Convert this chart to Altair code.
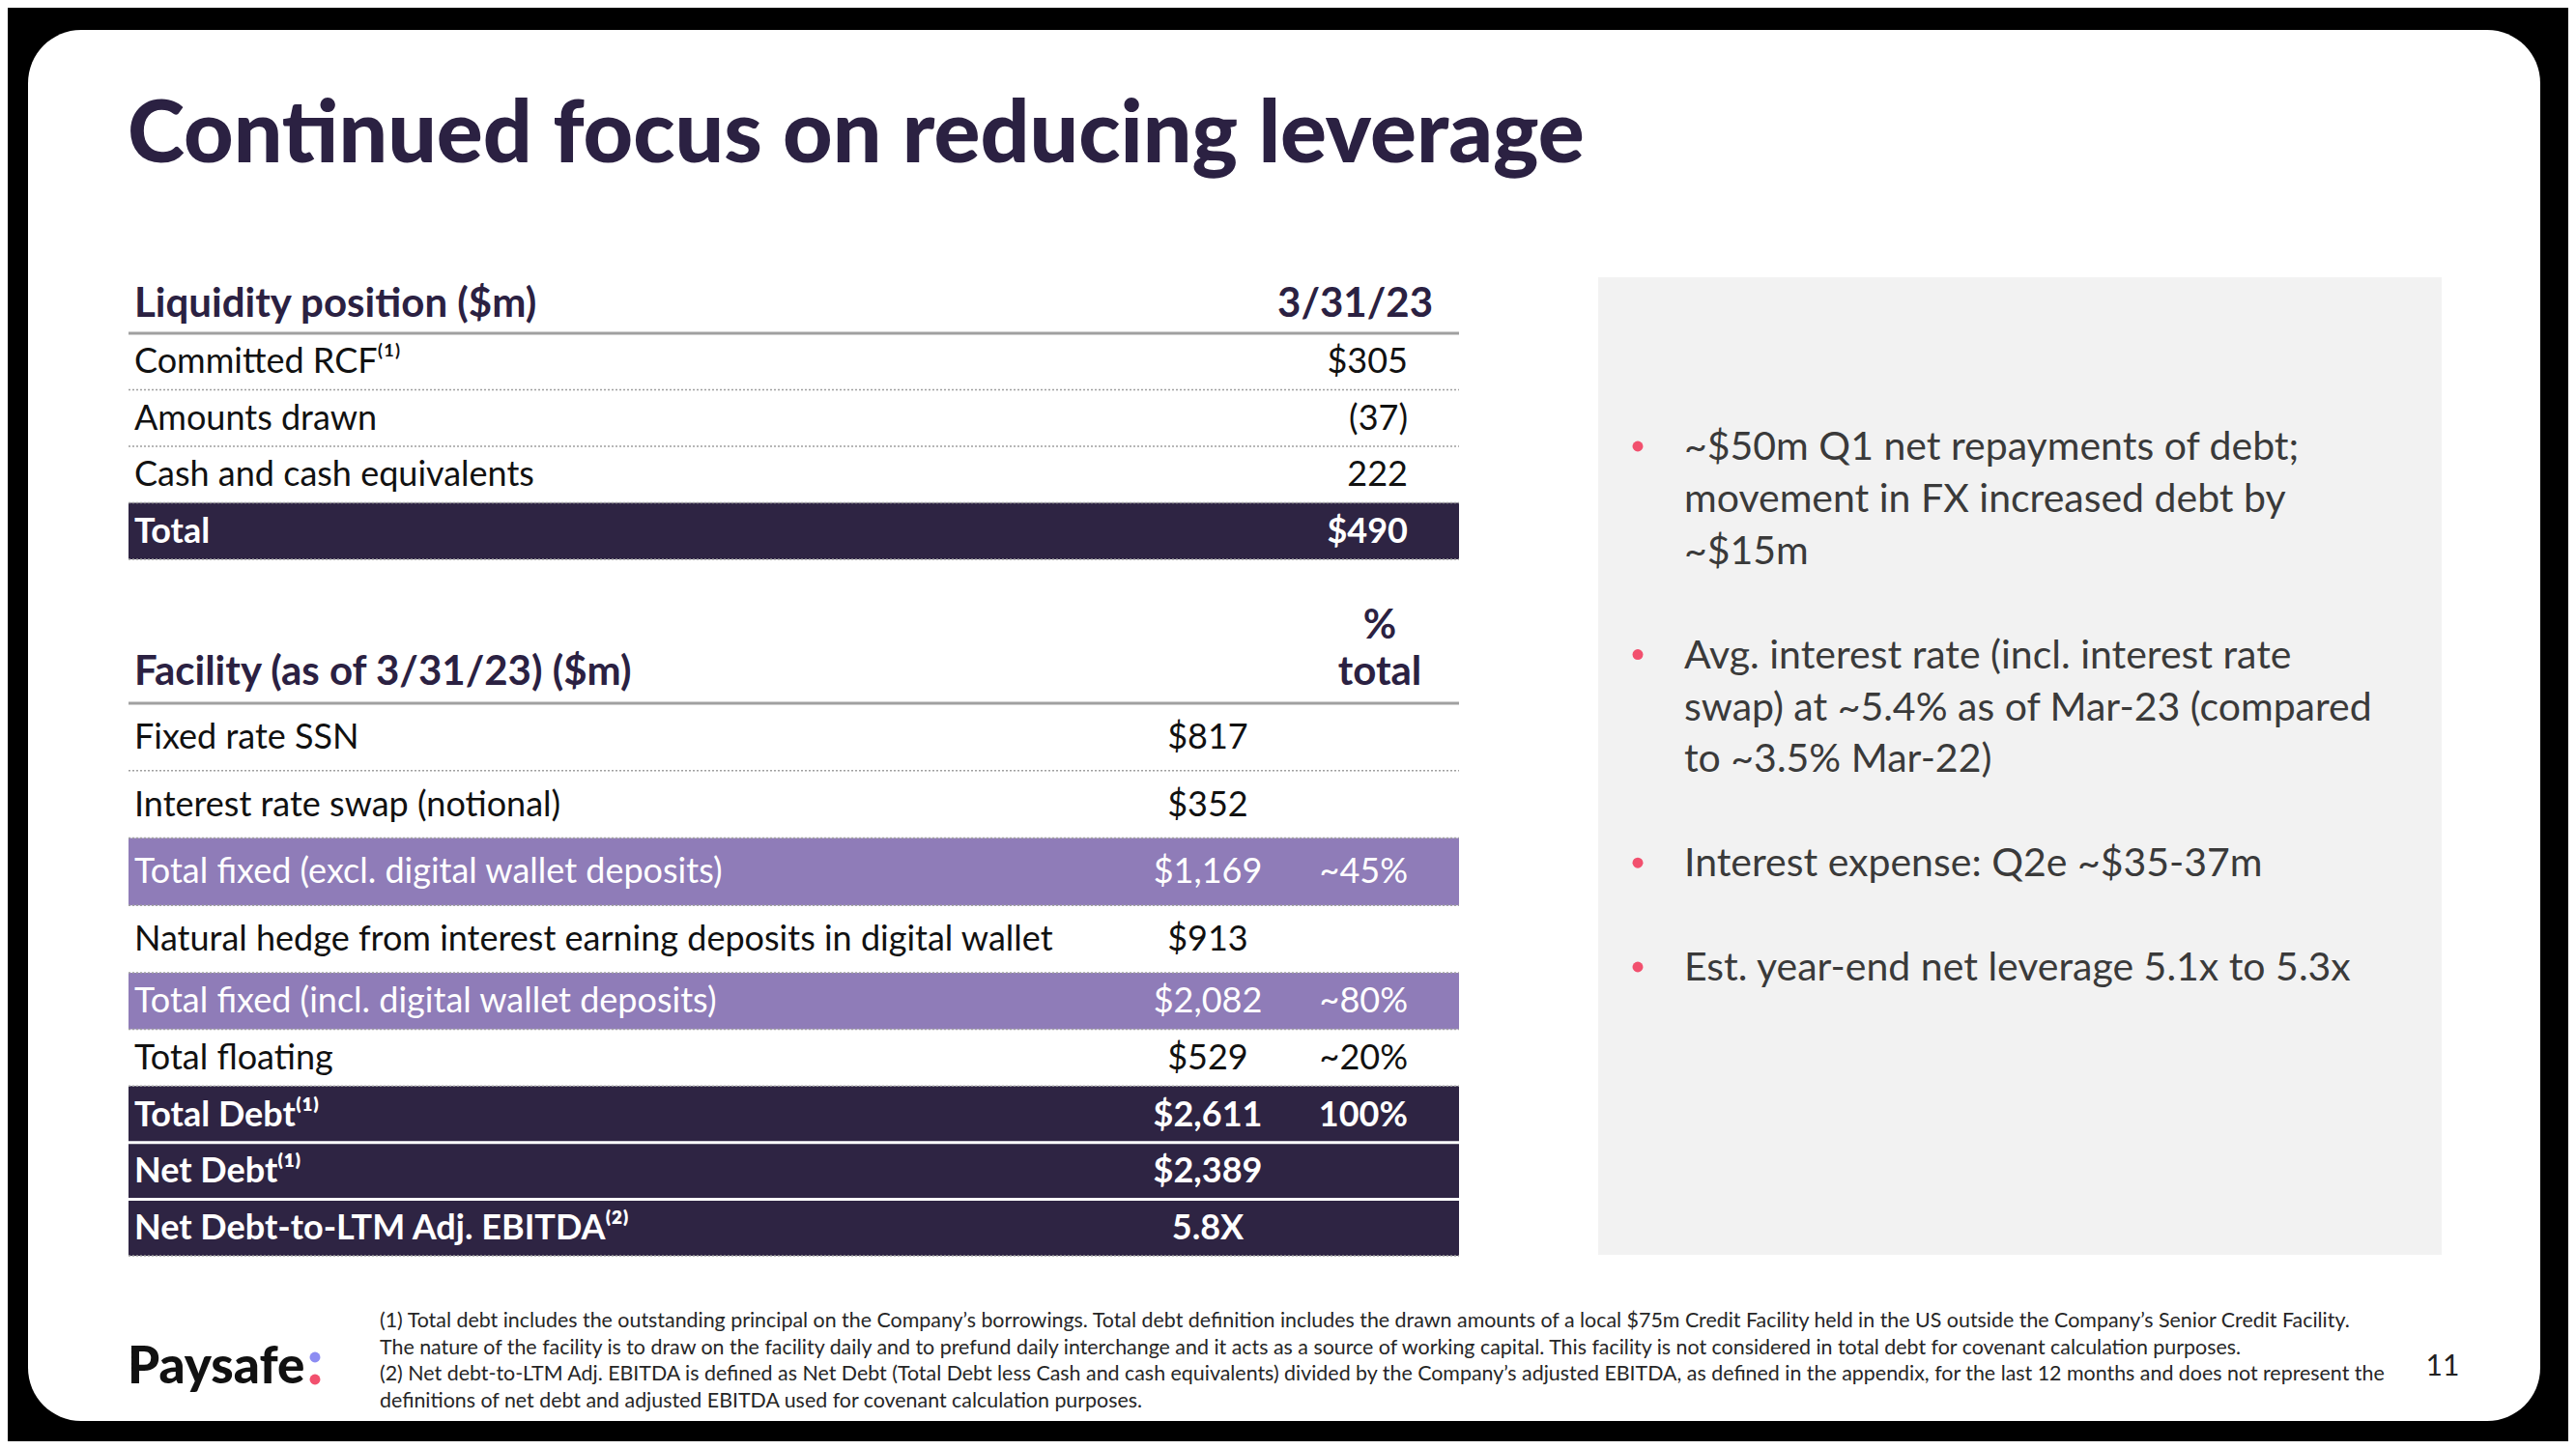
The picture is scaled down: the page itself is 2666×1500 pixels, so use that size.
import altair as alt
import pandas as pd

# ---------------- data (text content of the slide) ----------------
title = "Continued focus on reducing leverage"

liq_header = ["Liquidity position ($m)", "3/31/23"]
liq_labels = ["Committed RCF⁽¹⁾", "Amounts drawn", "Cash and cash equivalents", "Total"]
liq_values = ["$305", "(37)", "222", "$490"]

fac_header = ["Facility (as of 3/31/23) ($m)", "%", "total"]
fac_labels = [
    "Fixed rate SSN",
    "Interest rate swap (notional)",
    "Total fixed (excl. digital wallet deposits)",
    "Natural hedge from interest earning deposits in digital wallet",
    "Total fixed (incl. digital wallet deposits)",
    "Total floating",
    "Total Debt⁽¹⁾",
    "Net Debt⁽¹⁾",
    "Net Debt-to-LTM Adj. EBITDA⁽²⁾",
]
fac_values = ["$817", "$352", "$1,169", "$913", "$2,082", "$529", "$2,611", "$2,389", "5.8X"]
fac_pct = ["", "", "~45%", "", "~80%", "~20%", "100%", "", ""]

bullets = [
    ["~$50m Q1 net repayments of debt;", "movement in FX increased debt by", "~$15m"],
    ["Avg. interest rate (incl. interest rate", "swap) at ~5.4% as of Mar-23 (compared", "to ~3.5% Mar-22)"],
    ["Interest expense: Q2e ~$35-37m"],
    ["Est. year-end net leverage 5.1x to 5.3x"],
]

footnotes = [
    "(1) Total debt includes the outstanding principal on the Company’s borrowings. Total debt definition includes the drawn amounts of a local $75m Credit Facility held in the US outside the Company’s Senior Credit Facility.",
    "The nature of the facility is to draw on the facility daily and to prefund daily interchange and it acts as a source of working capital.  This facility is not considered in total debt for covenant calculation purposes.",
    "(2) Net debt-to-LTM Adj. EBITDA is defined as Net Debt (Total Debt less Cash and cash equivalents) divided by the Company’s adjusted EBITDA, as defined in the appendix, for the last 12 months and does not represent the",
    "definitions of net debt and adjusted EBITDA used for covenant calculation purposes.",
]

logo_text = "Paysafe"
page_no = "11"

# ---------------- layout & style ----------------
W, H, M = 2666, 1500, 8
FONT = "Lato"
NAVY = "#2b2142"
DARK = "#2e2443"
PURPLE = "#8f7cb8"
GRAYLINE = "#a0a0a0"
TXT = "#111111"

liq_kind = ["plain", "plain", "plain", "dark"]
fac_kind = ["plain", "plain", "purple", "plain", "purple", "plain", "dark", "dark", "dark"]
fac_heights = [69.75, 69.75, 69.75, 69.75, 58.6, 58.6, 58.6, 58.6, 58.6]

TL, TR = 133, 1510          # table left/right
LAB_X = 139                 # label x
VAL_R = 1457                # right-aligned value column
VAL_C = 1250                # centered value column (facility table)

xs = alt.Scale(domain=[M, W - M], range=[0, W - 2 * M], nice=False, zero=False)
ys = alt.Scale(domain=[M, H - M], range=[0, H - 2 * M], nice=False, zero=False)


def X(f="x"):
    return alt.X(f"{f}:Q", scale=xs, axis=None)


def Y(f="y"):
    return alt.Y(f"{f}:Q", scale=ys, axis=None)


def rects(rows, color, **kw):
    df = pd.DataFrame(rows, columns=["x", "x2", "y", "y2"])
    return alt.Chart(df).mark_rect(color=color, **kw).encode(
        x=X("x"), x2="x2:Q", y=Y("y"), y2="y2:Q")


def rules(rows, color, width, dash=None):
    df = pd.DataFrame(rows, columns=["x", "x2", "y"])
    kw = dict(color=color, strokeWidth=width)
    if dash:
        kw["strokeDash"] = dash
    return alt.Chart(df).mark_rule(**kw).encode(x=X("x"), x2="x2:Q", y=Y("y"))


def texts(rows, size, color, align="left", weight="normal"):
    df = pd.DataFrame(rows, columns=["x", "y", "t"])
    return alt.Chart(df).mark_text(
        align=align, baseline="alphabetic", font=FONT, fontSize=size,
        fontWeight=weight, color=color).encode(x=X(), y=Y(), text="t:N")


layers = []

# card
layers.append(rects([(29, 2629, 31, 1471)], "white", cornerRadius=55))
# gray side panel
layers.append(rects([(1654, 2527, 287, 1299)], "#f2f2f2"))

# title
layers.append(texts([(132, 168, title)], 89.5, NAVY, weight=900))

# ---- liquidity table ----
BODY = 36
HEAD = 42
liq_top = 345.0
liq_h = 58.5
liq_bounds = [liq_top + i * liq_h for i in range(len(liq_labels) + 1)]
layers.append(texts([(LAB_X, 328, liq_header[0])], HEAD, NAVY, weight="bold"))
layers.append(texts([(1483, 328, liq_header[1])], HEAD, NAVY, align="right", weight="bold"))

dark_rows, purple_rows, dotted, white_gaps = [], [], [], []
plain_lab, plain_val, bold_lab, bold_val = [], [], [], []
purp_lab = []
for i, (lab, val, kind) in enumerate(zip(liq_labels, liq_values, liq_kind)):
    y0, y1 = liq_bounds[i], liq_bounds[i + 1]
    by = (y0 + y1) / 2 + 12
    if kind == "dark":
        dark_rows.append((TL, TR, y0, y1))
        bold_lab.append((LAB_X, by, lab))
        bold_val.append((VAL_R, by, val))
    else:
        plain_lab.append((LAB_X, by, lab))
        plain_val.append((VAL_R, by, val))
for b in liq_bounds[1:]:
    dotted.append((TL, TR, b))

# ---- facility table ----
fac_top = 728.0
layers.append(texts([(LAB_X, 709, fac_header[0])], HEAD, NAVY, weight="bold"))
layers.append(texts([(1428, 661, fac_header[1])], HEAD, NAVY, align="center", weight="bold"))
layers.append(texts([(1428, 709, fac_header[2])], HEAD, NAVY, align="center", weight="bold"))

fac_bounds = [fac_top]
for h in fac_heights:
    fac_bounds.append(fac_bounds[-1] + h)

plain_cval, bold_cval, purp_cval = [], [], []
plain_pct, bold_pct, purp_pct = [], [], []
for i, (lab, val, pct, kind) in enumerate(zip(fac_labels, fac_values, fac_pct, fac_kind)):
    y0, y1 = fac_bounds[i], fac_bounds[i + 1]
    by = (y0 + y1) / 2 + 12
    if kind == "dark":
        dark_rows.append((TL, TR, y0, y1))
        bold_lab.append((LAB_X, by, lab))
        bold_cval.append((VAL_C, by, val))
        bold_pct.append((VAL_R, by, pct))
    elif kind == "purple":
        purple_rows.append((TL, TR, y0, y1))
        purp_lab.append((LAB_X, by, lab))
        purp_cval.append((VAL_C, by, val))
        purp_pct.append((VAL_R, by, pct))
    else:
        plain_lab.append((LAB_X, by, lab))
        plain_cval.append((VAL_C, by, val))
        plain_pct.append((VAL_R, by, pct))
for i in range(1, len(fac_bounds)):
    b = fac_bounds[i]
    above = fac_kind[i - 1]
    below = fac_kind[i] if i < len(fac_kind) else None
    if above == "dark" and below == "dark":
        white_gaps.append((TL, TR, b))
    else:
        dotted.append((TL, TR, b))

layers.append(rects(dark_rows, DARK))
layers.append(rects(purple_rows, PURPLE))
layers.append(rules(white_gaps, "white", 3))
layers.append(rules(dotted, GRAYLINE, 1.5, [2, 2]))
layers.append(rules([(TL, TR, liq_top), (TL, TR, fac_top)], GRAYLINE, 3))

layers.append(texts(plain_lab, BODY, TXT))
layers.append(texts(plain_val, BODY, TXT, align="right"))
layers.append(texts(plain_cval, BODY, TXT, align="center"))
layers.append(texts(plain_pct, BODY, TXT, align="right"))
layers.append(texts(purp_lab, BODY, "white"))
layers.append(texts(purp_cval, BODY, "white", align="center"))
layers.append(texts(purp_pct, BODY, "white", align="right"))
layers.append(texts(bold_lab, BODY, "white", weight="bold"))
layers.append(texts(bold_val, BODY, "white", align="right", weight="bold"))
layers.append(texts(bold_cval, BODY, "white", align="center", weight="bold"))
layers.append(texts(bold_pct, BODY, "white", align="right", weight="bold"))

# ---- bullets ----
BUL = 41
line_step = 53.9
first_center = 462
dots, blines = [], []
idx = 0
for b in bullets:
    dots.append((1695, first_center + idx * line_step))
    for line in b:
        blines.append((1743, first_center + idx * line_step + 14, line))
        idx += 1
    idx += 1
dot_df = pd.DataFrame(dots, columns=["x", "y"])
layers.append(alt.Chart(dot_df).mark_circle(color="#f2506e", opacity=1, size=120).encode(x=X(), y=Y()))
layers.append(texts(blines, BUL, "#3a3a3a"))

# ---- footnotes ----
fn_rows = [(393, 1374 + i * 27.5, t) for i, t in enumerate(footnotes)]
layers.append(texts(fn_rows, 21.4, "#262626"))

# ---- logo & page number ----
layers.append(texts([(132, 1432, logo_text)], 53, "#111111", weight=900))
logo_dots = pd.DataFrame({"x": [326, 326], "y": [1405, 1428], "c": ["#8c8cf2", "#f2506e"]})
layers.append(alt.Chart(logo_dots).mark_circle(opacity=1, size=120).encode(
    x=X(), y=Y(), color=alt.Color("c:N", scale=None)))
layers.append(texts([(2528, 1424, page_no)], 30, "#222222", align="center"))

chart = alt.layer(*layers).properties(
    width=W - 2 * M, height=H - 2 * M, background="black", padding=0, autosize="none"
).configure_view(stroke=None)

chart.save("out.html", embed_options={"renderer": "svg", "actions": False})
